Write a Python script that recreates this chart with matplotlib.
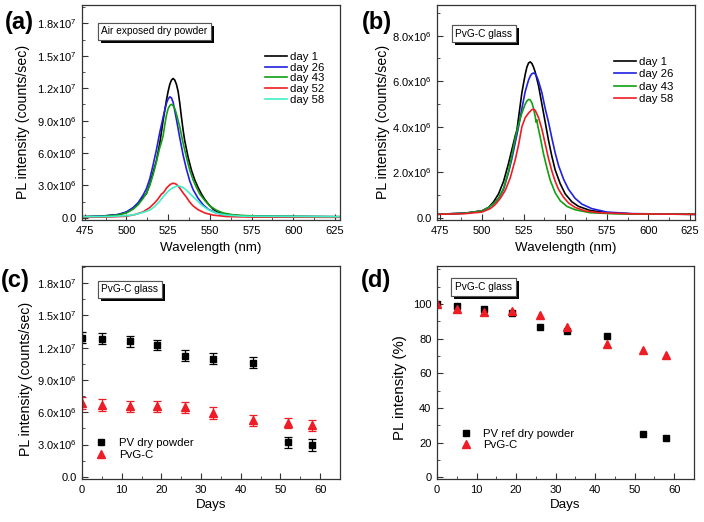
import matplotlib
matplotlib.use('Agg')
import matplotlib.pyplot as plt
import matplotlib.patheffects as pe
from matplotlib.lines import Line2D
from matplotlib.ticker import MultipleLocator, FuncFormatter
import numpy as np

plt.rcParams['font.family'] = ['Liberation Sans', 'DejaVu Sans']
plt.rcParams['mathtext.fontset'] = 'custom'
plt.rcParams['mathtext.rm'] = 'Liberation Sans'
plt.rcParams['mathtext.default'] = 'rm'

# ---- (a) air exposed dry powder spectra (intensity in 1e6 counts/sec)
a_day1_wl = [473, 485, 495, 500, 504, 507, 510, 512, 514, 516, 518, 520, 522, 524, 525, 526, 527,
             528, 529, 530, 531, 532, 533, 534, 535, 537, 539, 541, 543, 545, 547, 549, 552, 555,
             560, 570, 590, 628]
a_day1 = [0.1, 0.15, 0.3, 0.5, 0.85, 1.3, 1.9, 2.25, 3.1, 4.2, 5.3, 6.9, 9.0, 10.9, 11.7, 12.35,
          12.75, 12.9, 12.75, 12.35, 11.7, 10.6, 9.3, 8.1, 7.1, 5.6, 4.4, 3.5, 2.8, 2.2, 1.7, 1.3,
          0.8, 0.5, 0.3, 0.18, 0.12, 0.1]
a_day26_wl = [473, 485, 495, 500, 504, 507, 510, 512, 514, 516, 518, 520, 521, 522, 524, 525, 526,
              527, 528, 530, 532, 534, 536, 538, 540, 543, 546, 549, 553, 558, 565, 580, 628]
a_day26 = [0.1, 0.15, 0.3, 0.55, 0.95, 1.4, 2.1, 2.7, 3.6, 4.9, 6.3, 7.9, 8.6, 9.3, 10.6, 11.0, 11.2,
           11.1, 10.7, 9.1, 7.4, 5.8, 4.5, 3.4, 2.6, 1.8, 1.2, 0.8, 0.5, 0.3, 0.2, 0.13, 0.1]
a_day43_wl = [473, 485, 495, 500, 504, 507, 510, 512, 514, 516, 518, 520, 521, 522, 523, 524, 525,
              526, 527, 528, 529, 530, 532, 534, 536, 538, 540, 542, 544, 547, 550, 554, 558, 565,
              580, 628]
a_day43 = [0.1, 0.13, 0.25, 0.45, 0.8, 1.2, 1.8, 2.3, 3.0, 4.0, 5.2, 6.5, 7.0, 7.6, 8.6, 9.5, 10.1,
           10.4, 10.5, 10.4, 10.1, 9.6, 8.4, 6.9, 5.6, 4.4, 3.5, 2.8, 2.2, 1.6, 1.1, 0.7, 0.45, 0.25,
           0.15, 0.1]
a_day52_wl = [473, 490, 500, 505, 510, 514, 517, 519, 521, 522, 523, 524, 526, 527, 528, 529, 530,
              532, 534, 536, 538, 540, 543, 547, 552, 560, 575, 628]
a_day52 = [0.05, 0.08, 0.15, 0.3, 0.55, 0.95, 1.4, 1.75, 2.2, 2.3, 2.5, 2.75, 3.05, 3.15, 3.2, 3.17,
           3.1, 2.75, 2.3, 1.9, 1.45, 1.1, 0.75, 0.45, 0.25, 0.12, 0.07, 0.05]
a_day58_wl = [473, 490, 500, 505, 510, 514, 517, 520, 522, 524, 526, 528, 530, 531, 532, 534, 536,
              538, 540, 542, 545, 548, 551, 555, 560, 570, 628]
a_day58 = [0.1, 0.12, 0.2, 0.3, 0.5, 0.72, 1.05, 1.55, 1.95, 2.3, 2.6, 2.8, 2.92, 2.95, 2.93, 2.8,
           2.55, 2.25, 1.95, 1.65, 1.2, 0.85, 0.6, 0.4, 0.25, 0.15, 0.1]

# ---- (b) PvG-C glass spectra (1e6 counts/sec)
b_day1_wl = [473, 490, 500, 504, 507, 510, 513, 516, 518, 520, 521, 522, 524, 526, 527, 528, 529,
             530, 531, 532, 534, 536, 538, 540, 542, 544, 547, 550, 554, 558, 565, 575, 590, 628]
b_day1 = [0.15, 0.2, 0.3, 0.45, 0.7, 1.05, 1.6, 2.4, 3.0, 3.6, 3.85, 4.4, 5.5, 6.3, 6.62, 6.8, 6.85,
          6.78, 6.62, 6.4, 5.8, 5.0, 4.2, 3.4, 2.7, 2.1, 1.5, 1.05, 0.7, 0.5, 0.32, 0.22, 0.17, 0.15]
b_day26_wl = [473, 490, 500, 504, 507, 510, 513, 516, 518, 520, 522, 524, 526, 528, 529, 530, 531,
              532, 533, 534, 536, 538, 540, 542, 544, 546, 549, 552, 556, 560, 566, 575, 590, 628]
b_day26 = [0.15, 0.2, 0.3, 0.45, 0.62, 0.85, 1.25, 2.0, 2.6, 3.3, 4.0, 4.8, 5.55, 6.05, 6.22, 6.33,
           6.36, 6.32, 6.2, 6.0, 5.5, 4.8, 4.2, 3.5, 2.85, 2.3, 1.7, 1.25, 0.85, 0.6, 0.4, 0.25, 0.18,
           0.15]
b_day43_wl = [473, 490, 500, 504, 507, 510, 513, 516, 518, 520, 522, 524, 526, 527, 528, 529, 530,
              531, 532, 532.5, 533, 533.5, 535, 537, 539, 541, 544, 547, 551, 556, 565, 580, 628]
b_day43 = [0.15, 0.2, 0.3, 0.45, 0.62, 0.85, 1.3, 2.05, 2.75, 3.5, 4.1, 4.6, 5.0, 5.13, 5.2, 5.18,
           5.05, 4.8, 4.45, 4.2, 4.3, 4.05, 3.55, 2.8, 2.2, 1.65, 1.1, 0.75, 0.5, 0.35, 0.22, 0.17,
           0.15]
b_day58_wl = [473, 490, 500, 505, 508, 511, 514, 517, 520, 522, 524, 526, 528, 530, 531, 532, 534,
              536, 538, 540, 542, 544, 546, 549, 552, 556, 562, 570, 590, 628]
b_day58 = [0.15, 0.18, 0.25, 0.4, 0.58, 0.85, 1.2, 1.75, 2.55, 3.2, 4.0, 4.4, 4.6, 4.75, 4.77, 4.72,
           4.4, 3.9, 3.25, 2.6, 2.05, 1.6, 1.25, 0.9, 0.65, 0.45, 0.3, 0.22, 0.17, 0.15]

# ---- (c) PL intensity vs days (1e6 counts/sec)
days = [0, 5, 12, 19, 26, 33, 43, 52, 58]
pv_int = [12.95, 12.85, 12.6, 12.25, 11.25, 11.0, 10.6, 3.2, 2.95]
pv_err = [0.5, 0.5, 0.5, 0.5, 0.5, 0.5, 0.5, 0.55, 0.55]
pvgc_int = [6.85, 6.65, 6.55, 6.55, 6.45, 5.97, 5.25, 5.0, 4.8]
pvgc_err = [0.55, 0.55, 0.5, 0.5, 0.5, 0.55, 0.5, 0.5, 0.5]

# ---- (d) normalised PL intensity (%)
pv_pct = [100, 98.8, 96.9, 94.6, 86.7, 84.6, 81.7, 24.8, 22.8]
pvgc_pct = [99.8, 97.0, 95.7, 96.0, 93.5, 87.0, 76.8, 73.3, 70.4]

RED = '#ee1c24'
W, H = 704, 522
fig = plt.figure(figsize=(W / 100, H / 100), dpi=100)


def box(l, t, r, b):
    return [l / W, 1 - b / H, (r - l) / W, (b - t) / H]


ax_a = fig.add_axes(box(82, 5, 340, 220))
ax_b = fig.add_axes(box(437, 5, 695, 220))
ax_c = fig.add_axes(box(82, 266, 340, 479))
ax_d = fig.add_axes(box(437, 266, 694, 479))


def sci_fmt(v, pos):
    if v == 0:
        return '0.0'
    e = int(np.floor(np.log10(abs(v)) + 1e-9))
    return f'{v / 10 ** e:.1f}x10$^{{{e}}}$'


def style(ax, xlab, ylab, ylab_x, ylab_y, xlab_y, ylab_fs=10.2):
    for s in ax.spines.values():
        s.set_linewidth(0.9)
        s.set_color('#333333')
    ax.tick_params(which='both', direction='in', top=False, right=False, color='#333333')
    ax.tick_params(axis='both', labelsize=8)
    ax.tick_params(axis='x', pad=4)
    ax.tick_params(axis='y', pad=4)
    ax.tick_params(which='major', length=4)
    ax.tick_params(which='minor', length=2.5)
    ax.set_xlabel(xlab, fontsize=9.6)
    ax.set_ylabel(ylab, fontsize=ylab_fs)
    ax.yaxis.set_label_coords(ylab_x, ylab_y)
    ax.xaxis.set_label_coords(0.5, xlab_y)


def label_box(ax, text, x, y):
    t = ax.text(x, y, text, transform=ax.transAxes, fontsize=7.3, va='top', ha='left',
                bbox=dict(boxstyle='square,pad=0.35', fc='white', ec='#555555', lw=0.8))
    t.get_bbox_patch().set_path_effects([
        pe.withSimplePatchShadow(offset=(2.2, -2.2), shadow_rgbFace='black', alpha=1.0),
        pe.Normal()])


# (a)
for wl, val, c, lab in [(a_day1_wl, a_day1, 'black', 'day 1'),
                        (a_day26_wl, a_day26, '#2020e0', 'day 26'),
                        (a_day43_wl, a_day43, '#10a010', 'day 43'),
                        (a_day52_wl, a_day52, RED, 'day 52'),
                        (a_day58_wl, a_day58, '#40f0c8', 'day 58')]:
    ax_a.plot(wl, np.array(val) * 1e6, color=c, lw=1.2, label=lab)
ax_a.set_xlim(473.4, 628)
ax_a.set_ylim(-0.2e6, 1.97e7)
ax_a.xaxis.set_major_locator(MultipleLocator(25))
ax_a.xaxis.set_minor_locator(MultipleLocator(12.5))
ax_a.yaxis.set_major_locator(MultipleLocator(3e6))
ax_a.yaxis.set_minor_locator(MultipleLocator(1.5e6))
ax_a.yaxis.set_major_formatter(FuncFormatter(sci_fmt))
ax_a.legend(loc='upper left', bbox_to_anchor=(0.71, 0.78), frameon=False, fontsize=8.2,
            handlelength=1.95, handletextpad=0.25, labelspacing=0.05, borderaxespad=0,
            borderpad=0)
label_box(ax_a, 'Air exposed dry powder', 0.075, 0.9)
style(ax_a, 'Wavelength (nm)', 'PL intensity (counts/sec)', -0.2, 0.456, -0.1)

# (b)
for wl, val, c, lab in [(b_day1_wl, b_day1, 'black', 'day 1'),
                        (b_day26_wl, b_day26, '#2020e0', 'day 26'),
                        (b_day43_wl, b_day43, '#10a010', 'day 43'),
                        (b_day58_wl, b_day58, RED, 'day 58')]:
    ax_b.plot(wl, np.array(val) * 1e6, color=c, lw=1.2, label=lab)
ax_b.set_xlim(473, 628)
ax_b.set_ylim(-0.1e6, 9.35e6)
ax_b.xaxis.set_major_locator(MultipleLocator(25))
ax_b.xaxis.set_minor_locator(MultipleLocator(12.5))
ax_b.yaxis.set_major_locator(MultipleLocator(2e6))
ax_b.yaxis.set_minor_locator(MultipleLocator(1e6))
ax_b.yaxis.set_major_formatter(FuncFormatter(sci_fmt))
ax_b.legend(loc='upper left', bbox_to_anchor=(0.687, 0.76), frameon=False, fontsize=8.2,
            handlelength=1.95, handletextpad=0.25, labelspacing=0.22, borderaxespad=0,
            borderpad=0)
label_box(ax_b, 'PvG-C glass', 0.07, 0.89)
style(ax_b, 'Wavelength (nm)', 'PL intensity (counts/sec)', -0.183, 0.456, -0.1)

# (c)
ax_c.errorbar(days, np.array(pv_int) * 1e6, yerr=np.array(pv_err) * 1e6, fmt='s', color='black',
              ms=4.5, capsize=3, elinewidth=0.9, capthick=0.9)
ax_c.errorbar(days, np.array(pvgc_int) * 1e6, yerr=np.array(pvgc_err) * 1e6, fmt='^',
              color=RED, ms=5.5, capsize=3, elinewidth=0.9, capthick=0.9)
ax_c.set_xlim(0, 65)
ax_c.set_ylim(-0.2e6, 1.96e7)
ax_c.xaxis.set_major_locator(MultipleLocator(10))
ax_c.xaxis.set_minor_locator(MultipleLocator(5))
ax_c.yaxis.set_major_locator(MultipleLocator(3e6))
ax_c.yaxis.set_minor_locator(MultipleLocator(1.5e6))
ax_c.yaxis.set_major_formatter(FuncFormatter(sci_fmt))
c_handles = [Line2D([], [], ls='', marker='s', color='black', ms=4.5),
             Line2D([], [], ls='', marker='^', color=RED, ms=5.5)]
ax_c.legend(c_handles, ['PV dry powder', 'PvG-C'], loc='lower left',
            bbox_to_anchor=(0.05, 0.09), frameon=False, fontsize=8.2,
            handlelength=1.0, handletextpad=1.1, labelspacing=0.2, borderaxespad=0,
            borderpad=0)
label_box(ax_c, 'PvG-C glass', 0.075, 0.915)
style(ax_c, 'Days', 'PL intensity (counts/sec)', -0.19, 0.472, -0.096)

# (d)
ax_d.plot(days, pv_pct, 's', color='black', ms=4.5)
ax_d.plot(days, pvgc_pct, '^', color=RED, ms=5.5)
ax_d.set_xlim(0, 65)
ax_d.set_ylim(-1, 122)
ax_d.set_yticks([0, 20, 40, 60, 80, 100])
ax_d.xaxis.set_major_locator(MultipleLocator(10))
ax_d.xaxis.set_minor_locator(MultipleLocator(5))
ax_d.yaxis.set_minor_locator(MultipleLocator(10))
d_handles = [Line2D([], [], ls='', marker='s', color='black', ms=4.5),
             Line2D([], [], ls='', marker='^', color=RED, ms=5.5)]
ax_d.legend(d_handles, ['PV ref dry powder', 'PvG-C'], loc='lower left',
            bbox_to_anchor=(0.09, 0.137), frameon=False, fontsize=8.2,
            handlelength=1.0, handletextpad=1.0, labelspacing=0.05, borderaxespad=0,
            borderpad=0)
label_box(ax_d, 'PvG-C glass', 0.07, 0.925)
style(ax_d, 'Days', 'PL intensity (%)', -0.115, 0.43, -0.096, ylab_fs=10.8)

# panel letters
for lab, x, y in [('(a)', 19, 22), ('(b)', 377, 22), ('(c)', 15, 281), ('(d)', 376, 281)]:
    fig.text(x / W, 1 - y / H, lab, fontsize=17, fontweight='bold', ha='center', va='center')

fig.savefig('out.png', dpi=100)
